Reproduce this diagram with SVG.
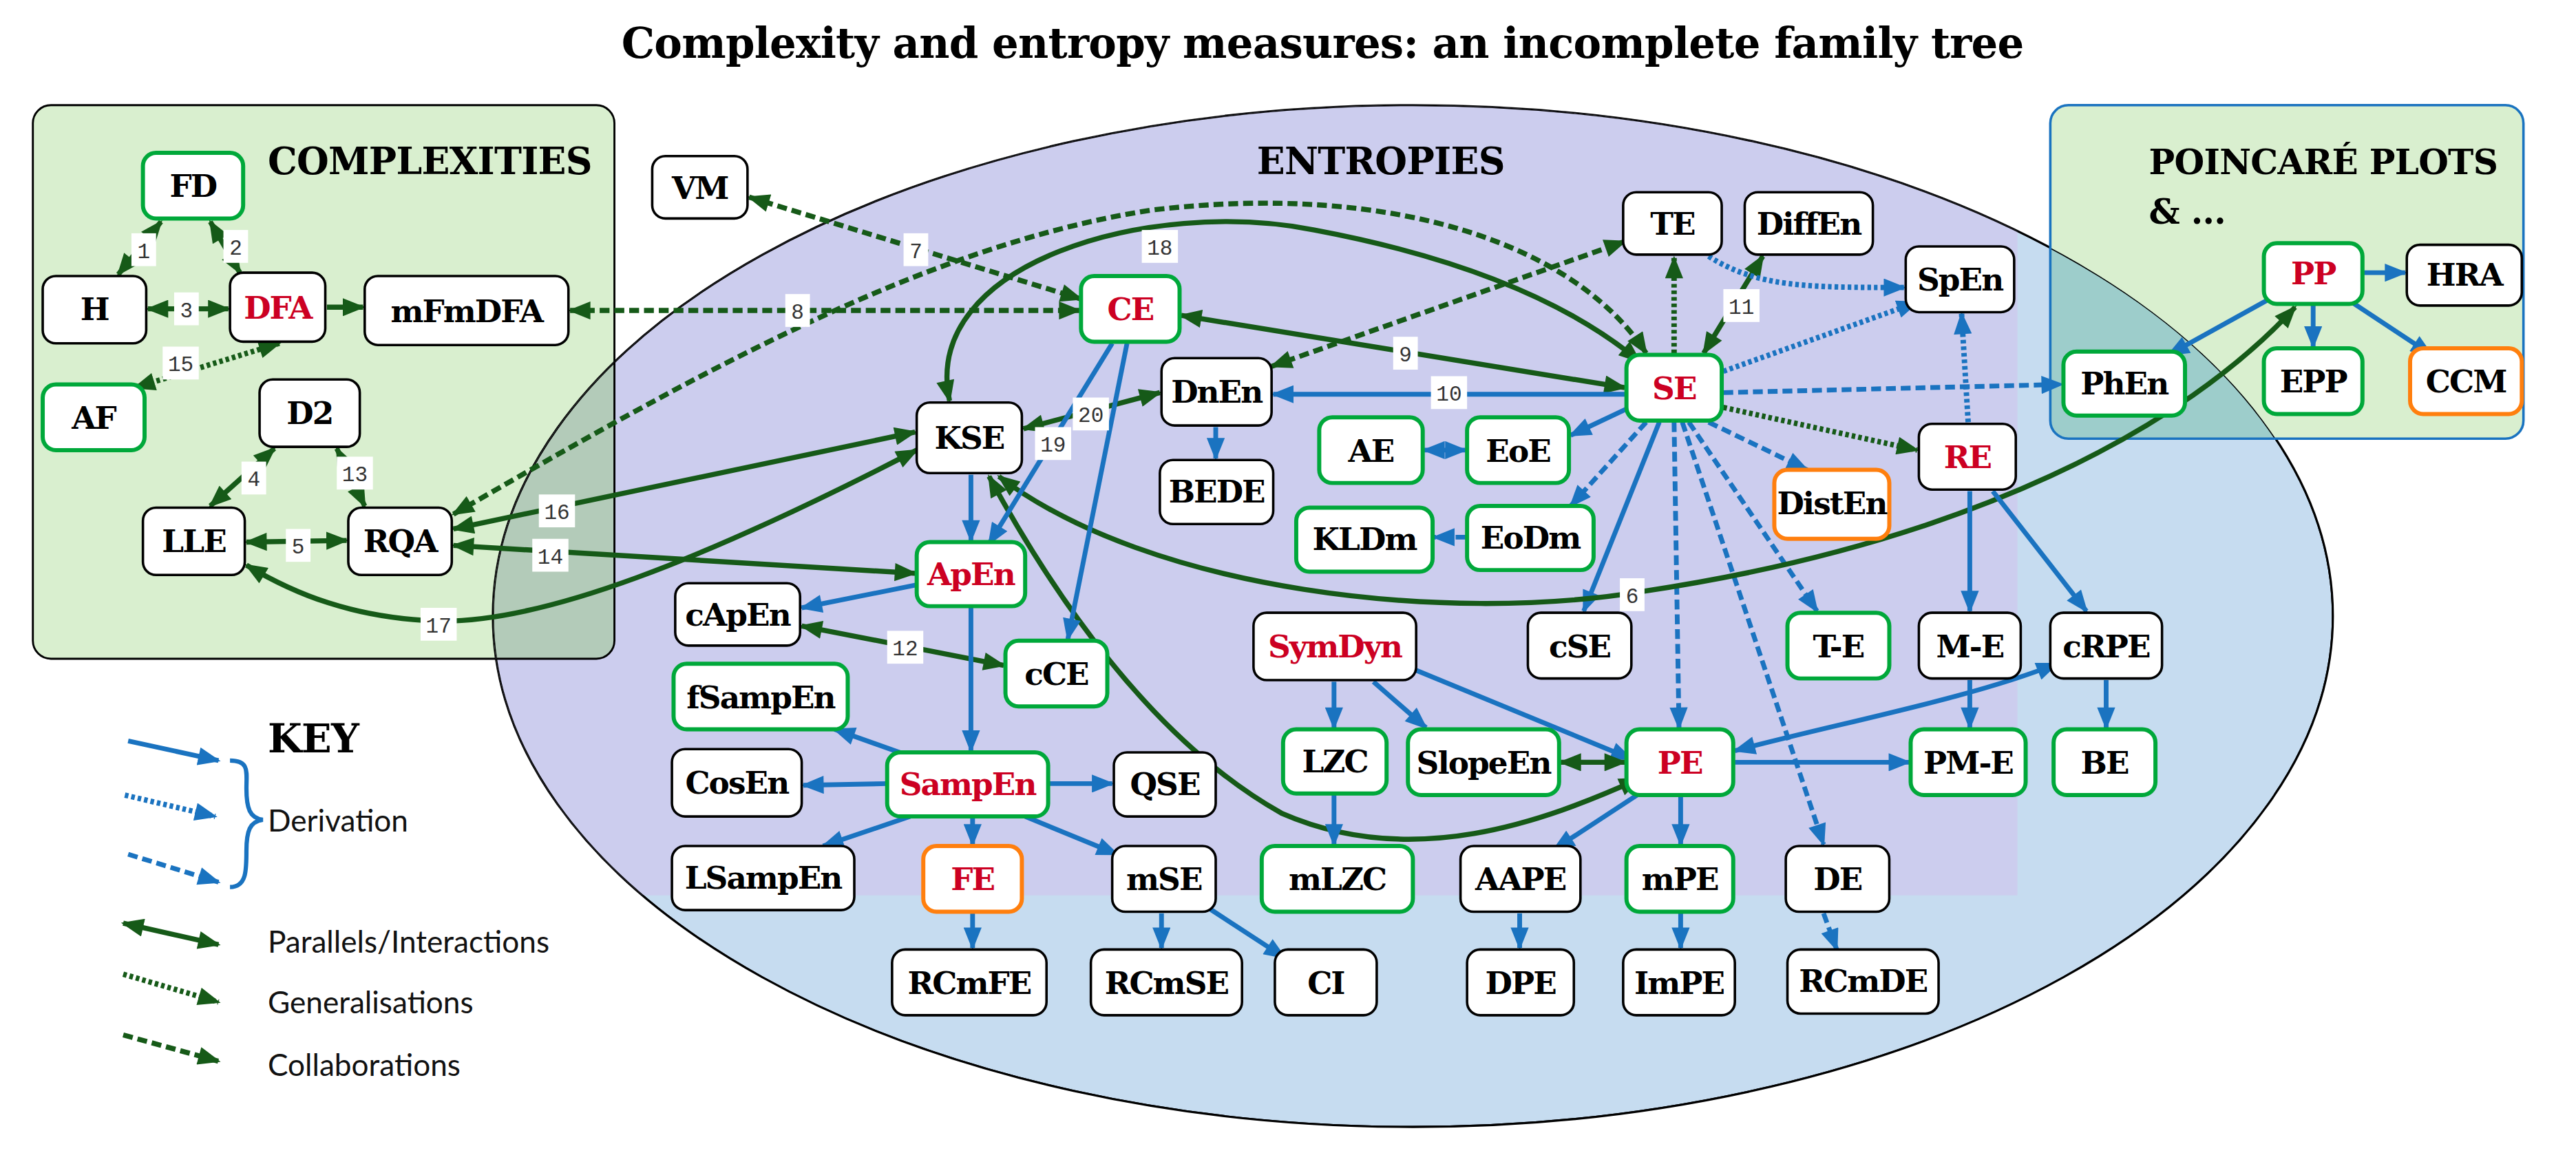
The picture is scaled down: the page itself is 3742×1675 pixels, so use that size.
<svg xmlns="http://www.w3.org/2000/svg" width="3742" height="1675" viewBox="0 0 3742 1675">
<style>
.nd rect{fill:#fff;stroke:#000;stroke-width:1.5}
.gn rect{stroke:#00a83a;stroke-width:2.5}
.on rect{stroke:#ff7f0e;stroke-width:2.5}
.nd text{font-family:"DejaVu Serif",serif;font-weight:bold;font-size:19px;text-anchor:middle;fill:#000;letter-spacing:-0.8px}
.nd text.r{fill:#cc0022}
.h{font-family:"DejaVu Serif",serif;font-weight:bold;font-size:22.5px;fill:#000;letter-spacing:-0.3px}
.b{stroke:#1a73c0;stroke-width:2.9;fill:none;marker-end:url(#ab)}
.g{stroke:#165a18;stroke-width:3.1;fill:none;marker-end:url(#ag)}
.bd{marker-start:url(#ab)}
.gd{marker-start:url(#ag)}
.dash{stroke-dasharray:6 3}
.dot{stroke-dasharray:2.2 1.8;stroke-width:3.3}
.lb rect{fill:#fff}
.lb text{font-family:"Liberation Mono",monospace;font-size:13px;text-anchor:middle;fill:#333}
.k{font-family:Lato,"Open Sans",sans-serif;font-size:18.5px;fill:#111}
</style>
<defs>
<marker id="ab" viewBox="0 0 10 8" refX="9" refY="4" markerWidth="14" markerHeight="11" markerUnits="userSpaceOnUse" orient="auto-start-reverse"><path d="M0,0 L10,4 L0,8 z" fill="#1a73c0"/></marker>
<marker id="ag" viewBox="0 0 10 8" refX="9" refY="4" markerWidth="14" markerHeight="11" markerUnits="userSpaceOnUse" orient="auto-start-reverse"><path d="M0,0 L10,4 L0,8 z" fill="#165a18"/></marker>
<clipPath id="ce"><ellipse cx="860" cy="375" rx="560" ry="311"/></clipPath>
</defs>
<rect width="3742" height="1675" fill="#fff"/>
<g transform="scale(2.3865)">
<text x="805" y="35" style="font-family:'DejaVu Serif',serif;font-weight:bold;font-size:25.5px;text-anchor:middle;letter-spacing:-0.3px">Complexity and entropy measures: an incomplete family tree</text>

<g id="regions">
<rect x="20" y="64" width="354" height="337" rx="11" fill="#d9efcf" stroke="#000" stroke-width="1.2"/>
<ellipse cx="860" cy="375" rx="560" ry="311" fill="#c6dcf0" stroke="#000" stroke-width="1.3"/>
<rect x="1248" y="64" width="288" height="203" rx="11" fill="#d9efcf"/>
<g clip-path="url(#ce)"><rect x="0" y="0" width="1228" height="545" fill="#cccdee"/>
<rect x="20" y="64" width="354" height="337" rx="11" fill="#b3cbb9" stroke="#000" stroke-width="1.2"/>
<rect x="1248" y="64" width="288" height="203" rx="11" fill="#9dcdcb"/>
<ellipse cx="860" cy="375" rx="560" ry="311" fill="none" stroke="#000" stroke-width="1.3"/></g>
<rect x="1248" y="64" width="288" height="203" rx="11" fill="none" stroke="#1a73c0" stroke-width="1.5"/>
<text class="h" x="163" y="106">COMPLEXITIES</text>
<text class="h" x="765" y="106">ENTROPIES</text>
<text class="h" x="1308" y="106" style="font-size:21px">POINCARÉ PLOTS</text>
<text class="h" x="1308" y="136" style="font-size:21px">&amp; ...</text>
</g>

<g id="connectors">
<line class="g gd" x1="72" y1="167" x2="98" y2="135"/>
<line class="g gd" x1="128" y1="135" x2="146" y2="166"/>
<line class="g gd" x1="90" y1="188" x2="139" y2="188"/>
<line class="g" x1="199" y1="187" x2="221" y2="187"/>
<line class="g gd dot" x1="170" y1="209" x2="82" y2="236"/>
<line class="g gd" x1="128" y1="308" x2="167" y2="273"/>
<line class="g gd" x1="205" y1="273" x2="222" y2="308"/>
<line class="g gd" x1="150" y1="330" x2="211" y2="329"/>
<line class="g gd dash" x1="347" y1="189" x2="657" y2="189"/>
<line class="g gd dash" x1="456" y1="120" x2="658" y2="182"/>
<path class="g gd dash" d="M276,313 C420,230 560,150 700,128 C850,110 960,150 1002,215"/>
<path class="g gd" d="M578,244 C560,160 700,120 800,140 C880,155 950,180 998,220"/>
<line class="g gd" x1="719" y1="192" x2="989" y2="236"/>
<line class="b" x1="989" y1="240" x2="775" y2="240"/>
<line class="b" x1="740" y1="260" x2="740" y2="279"/>
<line class="g gd" x1="1073" y1="156" x2="1037" y2="215"/>
<line class="g dot" x1="1019" y1="215" x2="1019" y2="157"/>
<line class="g gd dash" x1="774" y1="223" x2="989" y2="147"/>
<path class="b dot" d="M1040,156 C1070,175 1100,175 1159,175"/>
<line class="b dot" x1="1049" y1="226" x2="1167" y2="184"/>
<line class="b dot" x1="1198" y1="257" x2="1194" y2="191"/>
<line class="b dash" x1="1049" y1="239" x2="1255" y2="234"/>
<line class="g dot" x1="1049" y1="248" x2="1167" y2="274"/>
<line class="b dash" x1="1040" y1="257" x2="1100" y2="286"/>
<line class="b" x1="990" y1="249" x2="956" y2="265"/>
<line class="b dash" x1="1002" y1="257" x2="956" y2="308"/>
<line class="b dash" x1="892" y1="327" x2="873" y2="327"/>
<line class="b bd" x1="867" y1="274" x2="892" y2="274"/>
<line class="b" x1="1010" y1="257" x2="964" y2="372"/>
<line class="b dash" x1="1019" y1="257" x2="1022" y2="443"/>
<line class="b dash" x1="1028" y1="257" x2="1106" y2="372"/>
<line class="b dash" x1="1024" y1="257" x2="1110" y2="514"/>
<path class="g gd" d="M608,290 C700,360 880,380 1000,360 C1200,330 1330,260 1397,187"/>
<path class="g gd" d="M602,290 C640,360 700,450 780,495 C860,530 940,500 998,474"/>
<line class="g gd" x1="623" y1="261" x2="706" y2="239"/>
<line class="b" x1="677" y1="209" x2="602" y2="331"/>
<line class="b" x1="686" y1="209" x2="650" y2="389"/>
<line class="b" x1="591" y1="289" x2="591" y2="329"/>
<line class="g gd" x1="557" y1="263" x2="276" y2="322"/>
<path class="g gd" d="M558,274 C430,340 330,380 265,378 C215,376 180,362 150,344"/>
<line class="g gd" x1="557" y1="349" x2="276" y2="332"/>
<line class="g gd" x1="488" y1="381" x2="611" y2="405"/>
<line class="b" x1="558" y1="356" x2="488" y2="370"/>
<line class="b" x1="591" y1="370" x2="591" y2="457"/>
<line class="b" x1="556" y1="461" x2="508" y2="444"/>
<line class="b" x1="540" y1="477" x2="489" y2="478"/>
<line class="b" x1="639" y1="477" x2="677" y2="477"/>
<line class="b" x1="554" y1="497" x2="501" y2="515"/>
<line class="b" x1="592" y1="498" x2="592" y2="514"/>
<line class="b" x1="624" y1="497" x2="680" y2="520"/>
<line class="b" x1="592" y1="556" x2="592" y2="577"/>
<line class="b" x1="707" y1="556" x2="707" y2="577"/>
<line class="b" x1="736" y1="553" x2="782" y2="583"/>
<line class="b" x1="812" y1="415" x2="812" y2="443"/>
<line class="b" x1="836" y1="415" x2="868" y2="443"/>
<line class="b" x1="862" y1="408" x2="993" y2="462"/>
<line class="b" x1="812" y1="484" x2="812" y2="514"/>
<line class="g gd" x1="950" y1="464" x2="989" y2="464"/>
<line class="b" x1="1056" y1="464" x2="1162" y2="464"/>
<path class="b bd" d="M1056,457 C1120,440 1200,425 1252,404"/>
<line class="b" x1="998" y1="483" x2="946" y2="517"/>
<line class="b" x1="1023" y1="485" x2="1023" y2="514"/>
<line class="b" x1="925" y1="556" x2="925" y2="577"/>
<line class="b" x1="1023" y1="556" x2="1023" y2="577"/>
<line class="b dash" x1="1110" y1="556" x2="1118" y2="578"/>
<line class="b" x1="1199" y1="299" x2="1199" y2="372"/>
<line class="b" x1="1213" y1="299" x2="1270" y2="372"/>
<line class="b" x1="1199" y1="414" x2="1199" y2="443"/>
<line class="b" x1="1282" y1="414" x2="1282" y2="443"/>
<line class="b" x1="1439" y1="166" x2="1464" y2="166"/>
<line class="b" x1="1385" y1="180" x2="1320" y2="216"/>
<line class="b" x1="1408" y1="186" x2="1408" y2="211"/>
<line class="b" x1="1430" y1="183" x2="1480" y2="216"/>
<g class="lb">
<rect x="80" y="142" width="15" height="20"/><text x="87.5" y="157">1</text>
<rect x="136" y="140" width="15" height="20"/><text x="143.5" y="155">2</text>
<rect x="106" y="178" width="15" height="20"/><text x="113.5" y="193">3</text>
<rect x="147" y="281" width="15" height="20"/><text x="154.5" y="296">4</text>
<rect x="174" y="322" width="15" height="20"/><text x="181.5" y="337">5</text>
<rect x="986" y="352" width="15" height="20"/><text x="993.5" y="367">6</text>
<rect x="550" y="142" width="15" height="20"/><text x="557.5" y="157">7</text>
<rect x="478" y="179" width="15" height="20"/><text x="485.5" y="194">8</text>
<rect x="848" y="205" width="15" height="20"/><text x="855.5" y="220">9</text>
<rect x="871" y="229" width="22" height="20"/><text x="882" y="244">10</text>
<rect x="1049" y="176" width="22" height="20"/><text x="1060" y="191">11</text>
<rect x="540" y="384" width="22" height="20"/><text x="551" y="399">12</text>
<rect x="205" y="278" width="22" height="20"/><text x="216" y="293">13</text>
<rect x="324" y="328" width="22" height="20"/><text x="335" y="343">14</text>
<rect x="99" y="211" width="22" height="20"/><text x="110" y="226">15</text>
<rect x="328" y="301" width="22" height="20"/><text x="339" y="316">16</text>
<rect x="256" y="370" width="22" height="20"/><text x="267" y="385">17</text>
<rect x="695" y="140" width="22" height="20"/><text x="706" y="155">18</text>
<rect x="630" y="260" width="22" height="20"/><text x="641" y="275">19</text>
<rect x="653" y="242" width="22" height="20"/><text x="664" y="257">20</text>
</g>
</g>

<g id="FD" class="nd gn"><rect x="87" y="93" width="61" height="40" rx="8"/><text x="117.5" y="120">FD</text></g>
<g id="H" class="nd"><rect x="26" y="168" width="63" height="41" rx="8"/><text x="57.5" y="195">H</text></g>
<g id="DFA" class="nd"><rect x="140" y="166" width="58" height="42" rx="8"/><text class="r" x="169" y="194">DFA</text></g>
<g id="mFmDFA" class="nd"><rect x="222" y="168" width="124" height="42" rx="8"/><text x="284" y="196">mFmDFA</text></g>
<g id="AF" class="nd gn"><rect x="26" y="234" width="62" height="40" rx="8"/><text x="57" y="261">AF</text></g>
<g id="D2" class="nd"><rect x="158" y="231" width="61" height="41" rx="8"/><text x="188.5" y="258">D2</text></g>
<g id="LLE" class="nd"><rect x="87" y="309" width="62" height="41" rx="8"/><text x="118" y="336">LLE</text></g>
<g id="RQA" class="nd"><rect x="212" y="309" width="63" height="41" rx="8"/><text x="243.5" y="336">RQA</text></g>
<g id="VM" class="nd"><rect x="397" y="95" width="58" height="38" rx="8"/><text x="426" y="121">VM</text></g>
<g id="CE" class="nd gn"><rect x="658" y="168" width="60" height="40" rx="8"/><text class="r" x="688" y="195">CE</text></g>
<g id="TE" class="nd"><rect x="988" y="117" width="60" height="38" rx="8"/><text x="1018" y="143">TE</text></g>
<g id="DiffEn" class="nd"><rect x="1062" y="117" width="78" height="38" rx="8"/><text x="1101" y="143">DiffEn</text></g>
<g id="SpEn" class="nd"><rect x="1160" y="150" width="66" height="40" rx="8"/><text x="1193" y="177">SpEn</text></g>
<g id="SE" class="nd gn"><rect x="990" y="216" width="58" height="40" rx="8"/><text class="r" x="1019" y="243">SE</text></g>
<g id="DnEn" class="nd"><rect x="707" y="218" width="67" height="41" rx="8"/><text x="740.5" y="245">DnEn</text></g>
<g id="KSE" class="nd"><rect x="558" y="245" width="64" height="43" rx="8"/><text x="590" y="273">KSE</text></g>
<g id="BEDE" class="nd"><rect x="706" y="280" width="69" height="39" rx="8"/><text x="740.5" y="306">BEDE</text></g>
<g id="AE" class="nd gn"><rect x="803" y="254" width="63" height="40" rx="8"/><text x="834.5" y="281">AE</text></g>
<g id="EoE" class="nd gn"><rect x="893" y="254" width="62" height="40" rx="8"/><text x="924" y="281">EoE</text></g>
<g id="KLDm" class="nd gn"><rect x="789" y="309" width="83" height="39" rx="8"/><text x="830.5" y="335">KLDm</text></g>
<g id="EoDm" class="nd gn"><rect x="893" y="308" width="77" height="39" rx="8"/><text x="931.5" y="334">EoDm</text></g>
<g id="DistEn" class="nd on"><rect x="1080" y="286" width="70" height="42" rx="8"/><text x="1115" y="313">DistEn</text></g>
<g id="RE" class="nd"><rect x="1168" y="258" width="59" height="40" rx="8"/><text class="r" x="1197.5" y="285">RE</text></g>
<g id="PP" class="nd gn"><rect x="1378" y="148" width="60" height="37" rx="8"/><text class="r" x="1408" y="173">PP</text></g>
<g id="HRA" class="nd"><rect x="1465" y="149" width="70" height="37" rx="8"/><text x="1500" y="174">HRA</text></g>
<g id="PhEn" class="nd gn"><rect x="1256" y="214" width="74" height="39" rx="8"/><text x="1293" y="240">PhEn</text></g>
<g id="EPP" class="nd gn"><rect x="1378" y="212" width="60" height="40" rx="8"/><text x="1408" y="239">EPP</text></g>
<g id="CCM" class="nd on"><rect x="1467" y="212" width="68" height="40" rx="8"/><text x="1501" y="239">CCM</text></g>
<g id="ApEn" class="nd gn"><rect x="558" y="330" width="66" height="39" rx="8"/><text class="r" x="591" y="356">ApEn</text></g>
<g id="cApEn" class="nd"><rect x="411" y="355" width="76" height="38" rx="8"/><text x="449" y="381">cApEn</text></g>
<g id="cCE" class="nd gn"><rect x="612" y="390" width="62" height="40" rx="8"/><text x="643" y="417">cCE</text></g>
<g id="fSampEn" class="nd gn"><rect x="410" y="404" width="106" height="40" rx="8"/><text x="463" y="431">fSampEn</text></g>
<g id="SymDyn" class="nd"><rect x="763" y="373" width="99" height="41" rx="8"/><text class="r" x="812.5" y="400">SymDyn</text></g>
<g id="cSE" class="nd"><rect x="930" y="373" width="63" height="40" rx="8"/><text x="961.5" y="400">cSE</text></g>
<g id="T-E" class="nd gn"><rect x="1088" y="373" width="62" height="40" rx="8"/><text x="1119" y="400">T-E</text></g>
<g id="M-E" class="nd"><rect x="1168" y="373" width="62" height="40" rx="8"/><text x="1199" y="400">M-E</text></g>
<g id="cRPE" class="nd"><rect x="1248" y="373" width="68" height="40" rx="8"/><text x="1282" y="400">cRPE</text></g>
<g id="CosEn" class="nd"><rect x="409" y="456" width="79" height="41" rx="8"/><text x="448.5" y="483">CosEn</text></g>
<g id="SampEn" class="nd gn"><rect x="540" y="458" width="98" height="39" rx="8"/><text class="r" x="589" y="484">SampEn</text></g>
<g id="QSE" class="nd"><rect x="678" y="458" width="62" height="39" rx="8"/><text x="709" y="484">QSE</text></g>
<g id="LZC" class="nd gn"><rect x="781" y="444" width="63" height="39" rx="8"/><text x="812.5" y="470">LZC</text></g>
<g id="SlopeEn" class="nd gn"><rect x="857" y="444" width="92" height="40" rx="8"/><text x="903" y="471">SlopeEn</text></g>
<g id="PE" class="nd gn"><rect x="990" y="444" width="65" height="40" rx="8"/><text class="r" x="1022.5" y="471">PE</text></g>
<g id="PM-E" class="nd gn"><rect x="1163" y="444" width="70" height="40" rx="8"/><text x="1198" y="471">PM-E</text></g>
<g id="BE" class="nd gn"><rect x="1250" y="444" width="62" height="40" rx="8"/><text x="1281" y="471">BE</text></g>
<g id="LSampEn" class="nd"><rect x="409" y="515" width="111" height="39" rx="8"/><text x="464.5" y="541">LSampEn</text></g>
<g id="FE" class="nd on"><rect x="562" y="515" width="60" height="40" rx="8"/><text class="r" x="592" y="542">FE</text></g>
<g id="mSE" class="nd"><rect x="677" y="515" width="63" height="40" rx="8"/><text x="708.5" y="542">mSE</text></g>
<g id="mLZC" class="nd gn"><rect x="768" y="515" width="92" height="40" rx="8"/><text x="814" y="542">mLZC</text></g>
<g id="AAPE" class="nd"><rect x="889" y="515" width="73" height="40" rx="8"/><text x="925.5" y="542">AAPE</text></g>
<g id="mPE" class="nd gn"><rect x="990" y="515" width="65" height="40" rx="8"/><text x="1022.5" y="542">mPE</text></g>
<g id="DE" class="nd"><rect x="1087" y="515" width="63" height="40" rx="8"/><text x="1118.5" y="542">DE</text></g>
<g id="RCmFE" class="nd"><rect x="543" y="578" width="94" height="40" rx="8"/><text x="590" y="605">RCmFE</text></g>
<g id="RCmSE" class="nd"><rect x="664" y="578" width="92" height="40" rx="8"/><text x="710" y="605">RCmSE</text></g>
<g id="CI" class="nd"><rect x="776" y="578" width="62" height="40" rx="8"/><text x="807" y="605">CI</text></g>
<g id="DPE" class="nd"><rect x="893" y="578" width="65" height="40" rx="8"/><text x="925.5" y="605">DPE</text></g>
<g id="ImPE" class="nd"><rect x="988" y="578" width="68" height="40" rx="8"/><text x="1022" y="605">ImPE</text></g>
<g id="RCmDE" class="nd"><rect x="1088" y="578" width="92" height="39" rx="8"/><text x="1134" y="604">RCmDE</text></g>

<g id="key">
<text class="h" x="163" y="458" style="font-size:24px">KEY</text>
<line class="b" x1="78" y1="451" x2="133" y2="463"/>
<line class="b dot" x1="76" y1="484" x2="131" y2="497"/>
<line class="b dash" x1="78" y1="520" x2="133" y2="537"/>
<path d="M140,463 C152,463 150,470 150,480 C150,492 152,498 160,499 C152,500 150,506 150,518 C150,530 150,540 140,540" fill="none" stroke="#1a73c0" stroke-width="2.6"/>
<text class="k" x="163" y="506">Derivation</text>
<line class="g gd" x1="75" y1="562" x2="133" y2="575"/>
<line class="g dot" x1="75" y1="593" x2="133" y2="610"/>
<line class="g dash" x1="75" y1="630" x2="133" y2="646"/>
<text class="k" x="163" y="580">Parallels/Interactions</text>
<text class="k" x="163" y="617">Generalisations</text>
<text class="k" x="163" y="655">Collaborations</text>
</g>
</g>
</svg>
